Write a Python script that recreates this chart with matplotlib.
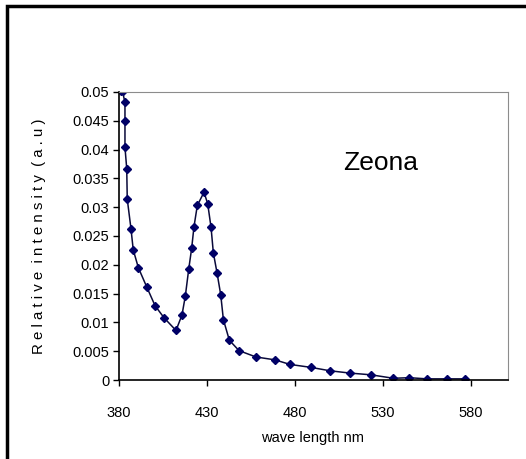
import matplotlib.pyplot as plt
from matplotlib.patches import Rectangle

# wavelength (nm) and relative intensity
wave = [381, 382, 383.4, 383.4, 383.4, 384.4, 384.7, 386.8, 388.1, 391, 395.7,
        400.5, 405.6, 412.4, 415.8, 417.7, 419.6, 421.3, 422.6, 424.5, 428.3,
        430.4, 432.3, 433.6, 435.7, 437.8, 439.3, 442.7, 448.2, 457.8, 468.6,
        477.2, 488.9, 499.9, 511.3, 523.2, 535.9, 545, 554.8, 566.5, 576.6]
intensity = [0.0501, 0.0501, 0.0482, 0.045, 0.0404, 0.0367, 0.0314, 0.0263,
             0.0226, 0.0195, 0.0162, 0.0129, 0.0108, 0.0086, 0.0113, 0.0146,
             0.0192, 0.0229, 0.0266, 0.0303, 0.0326, 0.0306, 0.0265, 0.0221,
             0.0186, 0.0148, 0.0105, 0.0069, 0.0051, 0.0040, 0.0035, 0.0027,
             0.0022, 0.0016, 0.0012, 0.0009, 0.0003, 0.0004, 0.0002, 0.0002,
             0.0002]

xticks = [380, 430, 480, 530, 580]
yticks = [0, 0.005, 0.01, 0.015, 0.02, 0.025, 0.03, 0.035, 0.04, 0.045, 0.05]
ytick_labels = ['0', '0.005', '0.01', '0.015', '0.02', '0.025', '0.03',
                '0.035', '0.04', '0.045', '0.05']

plt.rcParams['font.family'] = ['Liberation Sans', 'DejaVu Sans']

fig = plt.figure(figsize=(5.26, 4.59), dpi=100)
ax = fig.add_axes([0.2262, 0.1721, 0.7396, 0.6275])

ax.plot(wave, intensity, color='#0a0a3a', linewidth=1.1, marker='D',
        markersize=4.5, markerfacecolor='#000066', markeredgecolor='#000066')

ax.set_xlim(380, 601)
ax.set_ylim(0, 0.05)
ax.set_xticks(xticks)
ax.set_xticklabels([str(t) for t in xticks], fontsize=10.5)
ax.set_yticks(yticks)
ax.set_yticklabels(ytick_labels, fontsize=10.5)
ax.tick_params(direction='out', length=4, width=1, color='black')
ax.tick_params(axis='x', pad=15)
ax.tick_params(axis='y', pad=3)

for side in ['top', 'right']:
    ax.spines[side].set_color('#8c8c8c')
for side in ['left', 'bottom']:
    ax.spines[side].set_color('black')
    ax.spines[side].set_linewidth(1.2)

ax.text(0.673, 0.753, 'Zeona', transform=ax.transAxes, fontsize=19,
        ha='center', va='center')

fig.text(0.594, 0.046, 'wave length nm', fontsize=10.5,
         ha='center', va='center')
fig.text(0.075, 0.485, 'R e l a t i v e  i n t e n s i t y  ( a . u )',
         fontsize=10.8, rotation=90, ha='center', va='center')

# outer frame
fig.patches.append(Rectangle((7 / 526, -0.1), 1.2, 1.1 - 6 / 459,
                             transform=fig.transFigure, fill=False,
                             edgecolor='black', linewidth=2.5))

fig.savefig('out.png', dpi=100)
